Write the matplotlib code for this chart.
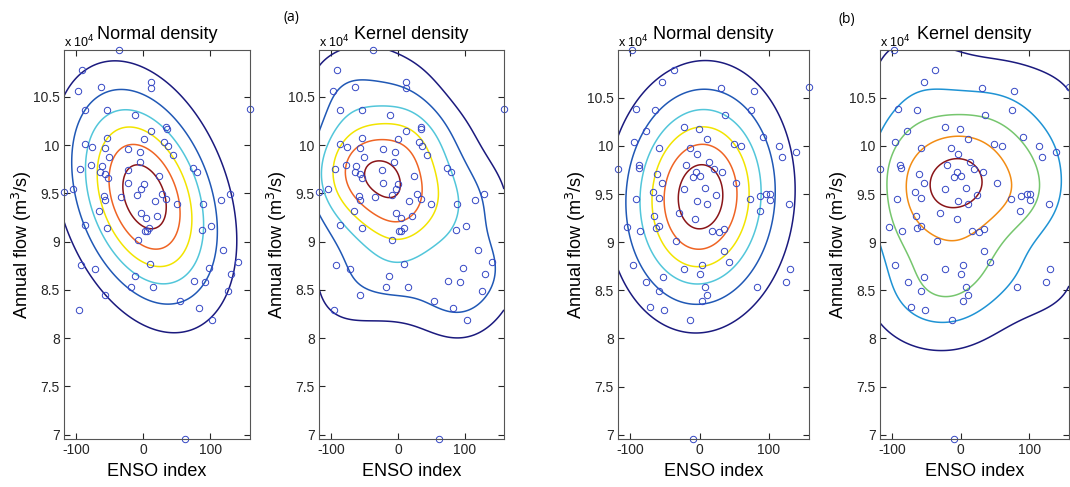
import numpy as np
import matplotlib
matplotlib.use('Agg')
import matplotlib.pyplot as plt

plt.rcParams['font.family'] = ['Liberation Sans', 'DejaVu Sans']
plt.rcParams['axes.unicode_minus'] = False

# data set (a): ENSO index vs annual flow (x 10^4 m3/s)
enso_a = [-37, -91.5, -97.5, -64, 11.5, 11.5, 159, -86.5, -54, -12.5, 11.5, 34, 35, -54,
          0.5, -86.5, -77, -57.5, -22.5, 31, 36.5, 44, -5, -51, -5.5, -78.5, -62.5, -95,
          -23.5, -65, -57, -53.5, 74, 80, 24, -22.5, 0.5, -3.5, -104.5, -118.5, 28, -9.5,
          -34, -58.5, -57, 34, 17, 50, 89, 116, 129.5, -66.5, -3, 4, 20.5, 9, 2, 5, -54.5,
          -87, 87.5, 101.5, -8.5, 119.5, 9.5, -93, -71.5, 97.5, 140.5, 130.5, -13, 75.5,
          92.5, -18.5, 14.5, -57.5, 126.5, 54.5, -96, 83, 103, 61.5]
flow_a = [10.986, 10.774, 10.562, 10.60, 10.658, 10.589, 10.377, 10.363, 10.363, 10.312,
          10.144, 10.188, 10.171, 10.075, 10.062, 10.007, 9.983, 9.966, 9.962, 10.031,
          9.986, 9.901, 9.925, 9.873, 9.822, 9.798, 9.788, 9.75, 9.747, 9.726, 9.699,
          9.664, 9.764, 9.719, 9.685, 9.610, 9.599, 9.548, 9.548, 9.514, 9.490, 9.483,
          9.459, 9.469, 9.428, 9.445, 9.425, 9.394, 9.387, 9.435, 9.497, 9.318, 9.301,
          9.240, 9.267, 9.144, 9.110, 9.112, 9.137, 9.168, 9.116, 9.158, 9.014, 8.911,
          8.764, 8.753, 8.716, 8.726, 8.784, 8.668, 8.640, 8.589, 8.579, 8.534, 8.527,
          8.449, 8.490, 8.387, 8.291, 8.312, 8.185, 6.955]

# data set (b)
enso_b = [-97.6, -36.5, -53.8, 30.8, 77.9, -91.3, -63.5, 74.5, 36, -77.4, -23, -1, 10.6,
          91.3, -94.7, 49, 59.6, 114.4, 118.3, 139, -57.7, -13.5, -3.8, -87.5, -86.5,
          -19.2, 13.9, 20.2, 32.7, -117.3, -60.6, -4.8, -9.6, 1, -53.8, 52.9, -66.3, -23,
          7.7, -91.8, -57.7, -3.8, 10.6, 24, 73, 87.5, 96, 101, 101, 128.4, -29.8, -65,
          -5.8, -63, -57.7, -103.8, -85.6, 17.3, 27.4, 34.6, 87, -33.7, 34.6, 42.8, 3.8,
          -23, -95.2, 0.5, 129.8, 125, -77, -52.9, 82.2, 8.2, -57.7, 10.6, 3.4, -71.6,
          -51.4, -13, -10, 157.7]
flow_b = [10.997, 10.788, 10.668, 10.599, 10.575, 10.387, 10.377, 10.377, 10.322, 10.154,
          10.195, 10.178, 10.072, 10.089, 10.045, 10.024, 9.997, 10.0, 9.88, 9.935, 9.976,
          9.976, 9.914, 9.805, 9.774, 9.798, 9.832, 9.760, 9.729, 9.760, 9.712, 9.729,
          9.681, 9.685, 9.610, 9.613, 9.524, 9.548, 9.562, 9.452, 9.459, 9.428, 9.401,
          9.490, 9.452, 9.479, 9.497, 9.497, 9.435, 9.397, 9.305, 9.274, 9.243, 9.147,
          9.164, 9.161, 9.113, 9.120, 9.110, 9.140, 9.325, 9.017, 8.911, 8.791, 8.767,
          8.726, 8.760, 8.671, 8.716, 8.582, 8.589, 8.634, 8.538, 8.534, 8.493, 8.452,
          8.390, 8.322, 8.291, 8.188, 6.955, 10.61]

yticks = [7, 7.5, 8, 8.5, 9, 9.5, 10, 10.5]
xticks = [-100, 0, 100]

col6 = ['#1b1a7e', '#2058b5', '#52c6da', '#f2e400', '#ef6424', '#8a1518']
col5 = ['#1b1a7e', '#1f93d4', '#76c66e', '#f28c14', '#8a1518']


def grid_for(x, y, n=160):
    gx = np.linspace(x.min(), x.max(), n)
    gy = np.linspace(y.min(), y.max(), n)
    return np.meshgrid(gx, gy)


def normal_density(x, y):
    X, Y = grid_for(x, y)
    mu = np.array([x.mean(), y.mean()])
    inv = np.linalg.inv(np.cov(x, y))
    dx, dy = X - mu[0], Y - mu[1]
    q = inv[0, 0] * dx**2 + 2 * inv[0, 1] * dx * dy + inv[1, 1] * dy**2
    return X, Y, np.exp(-0.5 * q)


def kernel_density(x, y, bw):
    X, Y = grid_for(x, y)
    hx, hy = bw[0] * x.std(), bw[1] * y.std()
    Z = np.zeros_like(X)
    for xi, yi in zip(x, y):
        Z += np.exp(-0.5 * (((X - xi) / hx)**2 + ((Y - yi) / hy)**2))
    return X, Y, Z


def draw_panel(ax, x, y, kind, fracs, colors, bw=(0.5, 0.5)):
    x = np.asarray(x)
    y = np.asarray(y)
    if kind == 'normal':
        X, Y, Z = normal_density(x, y)
    else:
        X, Y, Z = kernel_density(x, y, bw)
    ax.contour(X, Y, Z, levels=np.array(fracs) * Z.max(), colors=colors, linewidths=1.1)
    ax.plot(x, y, 'o', mfc='none', mec='#3446c4', ms=4.6, mew=0.7, clip_on=False)
    ax.set_xlim(x.min(), x.max())
    ax.set_ylim(y.min(), y.max())
    ax.set_xticks(xticks)
    ax.set_yticks(yticks)
    ax.set_yticklabels([f'{v:g}' for v in yticks])
    ax.tick_params(direction='in', top=True, right=True, length=4, width=0.8,
                   labelsize=10, colors='#262626', pad=3)
    for s in ax.spines.values():
        s.set_color('#555555')
        s.set_linewidth(0.8)
    title = 'Normal density' if kind == 'normal' else 'Kernel density'
    ax.set_title(title, fontsize=13, pad=8)
    ax.text(0.0, 1.0, 'x 10$^4$', transform=ax.transAxes, fontsize=9,
            ha='left', va='bottom')
    ax.set_xlabel('ENSO index', fontsize=13, labelpad=4)
    ax.set_ylabel('Annual flow (m$^3$/s)', fontsize=13, labelpad=-1)


fig = plt.figure(figsize=(10.7, 4.87), dpi=100)
bottom, height = 0.0986, 0.7988
ax1 = fig.add_axes([0.0598, bottom, 0.1738, height])
ax2 = fig.add_axes([0.2981, bottom, 0.1729, height])
ax3 = fig.add_axes([0.5776, bottom, 0.1785, height])
ax4 = fig.add_axes([0.8224, bottom, 0.1766, height])

draw_panel(ax1, enso_a, flow_a, 'normal', [0.135, 0.287, 0.44, 0.59, 0.743, 0.895], col6)
draw_panel(ax2, enso_a, flow_a, 'kernel', [0.12, 0.27, 0.43, 0.6, 0.77, 0.95], col6,
           bw=(0.62, 0.42))
draw_panel(ax3, enso_b, flow_b, 'normal', [0.135, 0.287, 0.44, 0.59, 0.743, 0.895], col6)
draw_panel(ax4, enso_b, flow_b, 'kernel', [0.1, 0.29, 0.48, 0.7, 0.91], col5,
           bw=(0.7, 0.45))

fig.text(291 / 1070, 1 - 18 / 487, '(a)', fontsize=10, ha='center', va='center',
         family=['Open Sans', 'DejaVu Sans'])
fig.text(847 / 1070, 1 - 19 / 487, '(b)', fontsize=10, ha='center', va='center',
         family=['Open Sans', 'DejaVu Sans'])

fig.savefig('out.png', dpi=100, facecolor='white')
